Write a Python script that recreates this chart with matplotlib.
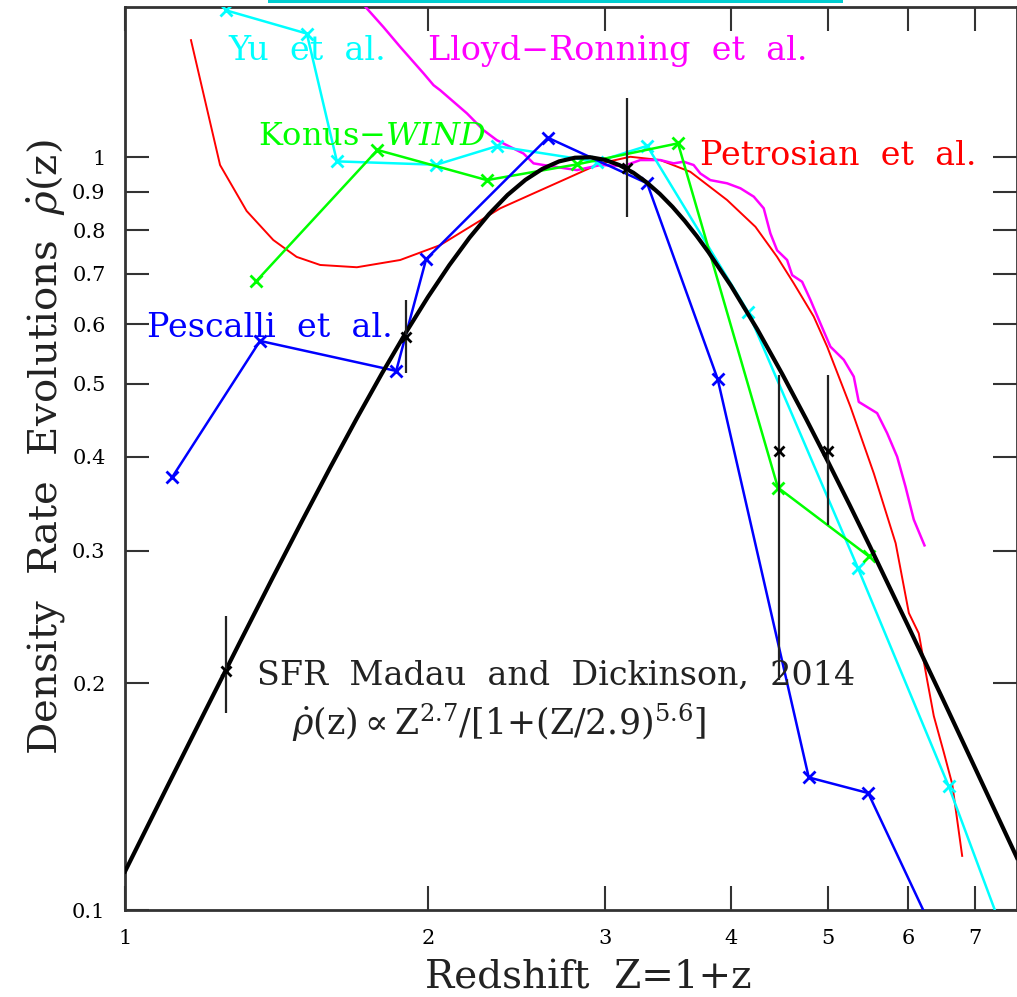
import matplotlib
matplotlib.use("Agg")
import matplotlib.pyplot as plt
from matplotlib.patches import Rectangle

plt.rcParams['font.family'] = ['DejaVu Serif']
plt.rcParams['mathtext.fontset'] = 'dejavuserif'

# ---------------- data ----------------
# SFR Madau & Dickinson 2014 curve (normalised)
sfr_Z = [1.0, 1.1, 1.2, 1.3, 1.4, 1.5, 1.6, 1.7, 1.8, 1.9, 2.0, 2.1, 2.2, 2.3,
         2.4, 2.5, 2.6, 2.7, 2.8, 2.9, 3.0, 3.1, 3.2, 3.3, 3.4, 3.5, 3.6, 3.7,
         3.8, 4.0, 4.25, 4.5, 4.75, 5.0, 5.25, 5.5, 6.0, 6.5, 7.0, 7.7]
sfr_rho = [0.1125, 0.1453, 0.1832, 0.2265, 0.2752, 0.3289, 0.3874, 0.4500,
           0.5158, 0.5836, 0.6517, 0.7183, 0.7817, 0.8398, 0.8907, 0.9327,
           0.9649, 0.9869, 0.9981, 0.9995, 0.9916, 0.9758, 0.9534, 0.9254,
           0.8936, 0.8590, 0.8227, 0.7855, 0.7481, 0.6752, 0.5906, 0.5150,
           0.4495, 0.3932, 0.3451, 0.3040, 0.2386, 0.1904, 0.1541, 0.1173]

# black data points with error bars
pts_Z = [1.260, 1.903, 3.154, 4.464, 4.998]
pts_rho = [0.208, 0.577, 0.966, 0.407, 0.407]
pts_lo = [0.1825, 0.516, 0.833, 0.202, 0.325]
pts_hi = [0.2455, 0.646, 1.199, 0.5135, 0.5135]

# Yu et al.
yu_Z = [1.259, 1.516, 1.624, 2.039, 2.342, 2.945, 3.303, 4.161, 5.348, 6.586, 7.5]
yu_rho = [1.567, 1.459, 0.987, 0.977, 1.034, 0.986, 1.035, 0.623, 0.285, 0.146, 0.0916]

# Konus-WIND
kw_Z = [1.350, 1.782, 2.289, 2.813, 3.545, 4.455, 5.485]
kw_rho = [0.684, 1.022, 0.932, 0.978, 1.043, 0.364, 0.295]

# Pescalli et al.
pe_Z = [1.1145, 1.362, 1.860, 1.992, 2.632, 3.303, 3.882, 4.781, 5.478, 6.3]
pe_rho = [0.376, 0.570, 0.520, 0.732, 1.061, 0.923, 0.507, 0.150, 0.143, 0.0961]

# Petrosian et al.
pt_Z = [1.163, 1.243, 1.321, 1.404, 1.481, 1.563, 1.700, 1.877, 2.057, 2.360,
        2.547, 2.750, 2.968, 3.178, 3.404, 3.646, 3.966, 4.232, 4.447, 4.619,
        4.836, 4.987, 5.260, 5.549, 5.833, 6.012, 6.150, 6.269, 6.365, 6.512,
        6.639, 6.792]
pt_rho = [1.430, 0.976, 0.848, 0.776, 0.737, 0.719, 0.714, 0.730, 0.764, 0.855,
          0.895, 0.937, 0.981, 1.001, 0.991, 0.956, 0.877, 0.808, 0.737, 0.680,
          0.614, 0.560, 0.466, 0.380, 0.307, 0.248, 0.233, 0.202, 0.181, 0.162,
          0.147, 0.118]

# Lloyd-Ronning et al.
lr_Z = [1.693, 1.733, 1.806, 1.877, 1.980, 2.026, 2.057, 2.187, 2.271, 2.342,
        2.489, 2.547, 2.606, 2.813, 2.968, 3.130, 3.252, 3.404, 3.510, 3.591,
        3.674, 3.731, 3.817, 3.966, 4.089, 4.216, 4.313, 4.379, 4.447, 4.550,
        4.603, 4.709, 4.800, 4.911, 5.024, 5.180, 5.300, 5.361, 5.591, 5.720,
        5.853, 5.966, 6.080, 6.231]
lr_rho = [1.692, 1.584, 1.489, 1.401, 1.292, 1.246, 1.227, 1.143, 1.086, 1.053,
          1.011, 0.981, 0.976, 0.961, 0.976, 0.973, 0.991, 0.991, 0.981, 0.986,
          0.976, 0.951, 0.932, 0.923, 0.909, 0.886, 0.855, 0.792, 0.752, 0.730,
          0.697, 0.683, 0.646, 0.601, 0.560, 0.538, 0.511, 0.473, 0.457, 0.430,
          0.400, 0.365, 0.330, 0.305]

x_ticks = [1, 2, 3, 4, 5, 6, 7]
x_ticklabels = ['1', '2', '3', '4', '5', '6', '7']
y_ticks = [0.1, 0.2, 0.3, 0.4, 0.5, 0.6, 0.7, 0.8, 0.9, 1.0]
y_ticklabels = ['0.1', '0.2', '0.3', '0.4', '0.5', '0.6', '0.7', '0.8', '0.9', '1']

# ---------------- figure ----------------
W, H = 1017, 997
fig = plt.figure(figsize=(W / 100, H / 100), dpi=100)
L, R, B, T = 125, 1017, 910, 6.7
ax = fig.add_axes([L / W, 1 - B / H, (R - L) / W, (B - T) / H])
ax.set_xscale('log')
ax.set_yscale('log')
ax.set_xlim(1, 7.7)
ax.set_ylim(0.1, 1.584)

def fx(px):
    return px / W

def fy(py):
    return 1 - py / H

# teal bar at top (cropped element)
fig.patches.append(Rectangle((fx(268), fy(3.5)), fx(843) - fx(268), 3.5 / H,
                             transform=fig.transFigure, facecolor='#00CED1',
                             edgecolor='none'))

ax.plot(sfr_Z, sfr_rho, color='black', lw=3.0, zorder=5, solid_joinstyle='round')
ax.plot(pt_Z, pt_rho, color='#FF0000', lw=1.4, zorder=3)
ax.plot(lr_Z, lr_rho, color='#FF00FF', lw=1.8, zorder=3)
ax.plot(yu_Z, yu_rho, color='#00FFFF', lw=1.8, marker='x', ms=8, mew=2, zorder=4)
ax.plot(kw_Z, kw_rho, color='#00FF00', lw=1.8, marker='x', ms=8, mew=2, zorder=4)
ax.plot(pe_Z, pe_rho, color='#0000FF', lw=1.8, marker='x', ms=8, mew=2, zorder=4)

yerr = [[r - lo for r, lo in zip(pts_rho, pts_lo)],
        [hi - r for r, hi in zip(pts_rho, pts_hi)]]
ax.errorbar(pts_Z, pts_rho, yerr=yerr, fmt='x', color='black', ecolor='#222222',
            elinewidth=1.6, capsize=0, ms=7, mew=2, zorder=6)

ax.set_xticks(x_ticks)
ax.set_xticklabels(x_ticklabels)
ax.set_yticks(y_ticks)
ax.set_yticklabels(y_ticklabels)
ax.xaxis.set_minor_locator(matplotlib.ticker.NullLocator())
ax.yaxis.set_minor_locator(matplotlib.ticker.NullLocator())
ax.tick_params(which='major', direction='in', length=17, width=1.5,
               top=True, right=True, labelsize=15, color='#333333', pad=14)
for s in ax.spines.values():
    s.set_linewidth(2)
    s.set_color('#333333')

fs = 24
fig.text(fx(228), fy(60), 'Yu  et  al.', color='#00FFFF', fontsize=fs, va='baseline')
fig.text(fx(428), fy(60), 'Lloyd\u2212Ronning  et  al.', color='#FF00FF', fontsize=fs, va='baseline')
fig.text(fx(258), fy(145), r'Konus$-\mathit{WIND}$', color='#00FF00', fontsize=23, va='baseline')
fig.text(fx(700), fy(165), 'Petrosian  et  al.', color='#FF0000', fontsize=fs, va='baseline')
fig.text(fx(147), fy(337), 'Pescalli  et  al.', color='#0000FF', fontsize=fs, va='baseline')
fig.text(fx(257), fy(685), 'SFR  Madau  and  Dickinson,  2014', color='#222222', fontsize=fs, va='baseline')
fig.text(fx(292), fy(735), r'$\dot{\rho}$(z)$\propto$Z$^{2.7}$/[1+(Z/2.9)$^{5.6}$]',
         color='#222222', fontsize=25, va='baseline')

fig.text(fx(588), fy(988), 'Redshift  Z=1+z', fontsize=28, ha='center', va='baseline', color='#222222')
fig.text(fx(46), fy(447), r'Density  Rate  Evolutions  $\dot{\rho}$(z)', fontsize=29,
         rotation=90, ha='center', va='center', color='#222222')

fig.savefig('out.png', dpi=100)
